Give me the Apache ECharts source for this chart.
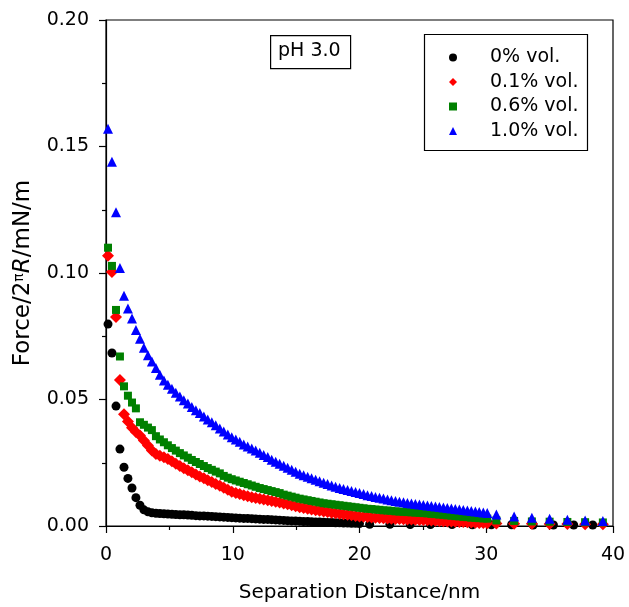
<!DOCTYPE html>
<html>
<head>
<meta charset="utf-8">
<script src="https://cdn.jsdelivr.net/npm/echarts@6/dist/echarts.min.js"></script>
<style>
  html, body { margin: 0; padding: 0; background: #fff; }
  #chart { width: 629px; height: 607px; }
</style>
</head>
<body>
<div id="chart"></div>
<script>
// separation distance (nm), dense part of the runs
const sepDense = [
  0.16, 0.47, 0.79, 1.10, 1.42, 1.73, 2.05, 2.36, 2.68, 2.99,
  3.31, 3.62, 3.94, 4.25, 4.57, 4.88, 5.20, 5.51, 5.83, 6.14,
  6.46, 6.77, 7.09, 7.40, 7.72, 8.03, 8.35, 8.66, 8.98, 9.29,
  9.61, 9.92, 10.24, 10.55, 10.87, 11.18, 11.50, 11.81, 12.13, 12.44,
  12.76, 13.07, 13.39, 13.70, 14.02, 14.33, 14.65, 14.96, 15.28, 15.59,
  15.91, 16.22, 16.54, 16.85, 17.17, 17.48, 17.80, 18.11, 18.43, 18.74,
  19.06, 19.37, 19.69, 20.00, 20.32, 20.63, 20.95, 21.26, 21.58, 21.89,
  22.21, 22.52, 22.84, 23.15, 23.47, 23.78, 24.10, 24.41, 24.73, 25.04,
  25.36, 25.67, 25.99, 26.30, 26.62, 26.93, 27.25, 27.56, 27.88, 28.19,
  28.51, 28.82, 29.14, 29.45, 29.77, 30.08
];
// sparse tail points
const sepTail0 = [20.8, 22.4, 24.0, 25.6, 27.3, 28.9, 30.4, 32.0, 33.7, 35.3, 36.9, 38.4];
const sepTail = [30.8, 32.2, 33.6, 35.0, 36.4, 37.8, 39.2];

// Force/2piR (mN/m)
const force0 = [
  0.0798, 0.0684, 0.0474, 0.0304, 0.0232, 0.0188, 0.0150, 0.0112, 0.0082, 0.0064,
  0.0056, 0.0052, 0.0050, 0.0049, 0.0048, 0.0047, 0.0046, 0.0045, 0.0044, 0.0044,
  0.0043, 0.0042, 0.0041, 0.0040, 0.0040, 0.0039, 0.0038, 0.0037, 0.0036, 0.0035,
  0.0034, 0.0033, 0.0032, 0.0031, 0.0030, 0.0030, 0.0029, 0.0028, 0.0027, 0.0026,
  0.0026, 0.0025, 0.0024, 0.0023, 0.0022, 0.0021, 0.0020, 0.0020, 0.0019, 0.0018,
  0.0018, 0.0017, 0.0016, 0.0016, 0.0015, 0.0014, 0.0014, 0.0013, 0.0013, 0.0012,
  0.0012, 0.0011, 0.0011, 0.0010
];
const force0Tail = [0.0007, 0.0007, 0.0006, 0.0006, 0.0006, 0.0005, 0.0005, 0.0005, 0.0004, 0.0004, 0.0004, 0.0004];

const force01 = [
  0.1068, 0.1004, 0.0826, 0.0577, 0.0442, 0.0413, 0.0388, 0.0372, 0.0358, 0.0338,
  0.0318, 0.0298, 0.0285, 0.0278, 0.0272, 0.0265, 0.0256, 0.0246, 0.0237, 0.0228,
  0.0220, 0.0212, 0.0204, 0.0196, 0.0189, 0.0181, 0.0174, 0.0166, 0.0159, 0.0151,
  0.0143, 0.0135, 0.0130, 0.0126, 0.0122, 0.0118, 0.0114, 0.0111, 0.0108, 0.0105,
  0.0102, 0.0099, 0.0096, 0.0093, 0.0089, 0.0086, 0.0082, 0.0078, 0.0074, 0.0071,
  0.0068, 0.0065, 0.0062, 0.0060, 0.0057, 0.0055, 0.0052, 0.0050, 0.0048, 0.0046,
  0.0044, 0.0042, 0.0040, 0.0038, 0.0037, 0.0036, 0.0034, 0.0033, 0.0032, 0.0031,
  0.0030, 0.0029, 0.0028, 0.0028, 0.0027, 0.0026, 0.0026, 0.0025, 0.0024, 0.0024,
  0.0023, 0.0022, 0.0021, 0.0020, 0.0019, 0.0018, 0.0018, 0.0017, 0.0016, 0.0016,
  0.0015, 0.0014, 0.0013, 0.0012, 0.0012, 0.0011
];
const force01Tail = [0.0010, 0.0009, 0.0009, 0.0008, 0.0008, 0.0007, 0.0007];

const force06 = [
  0.1100, 0.1028, 0.0854, 0.0670, 0.0552, 0.0515, 0.0488, 0.0465, 0.0410, 0.0400,
  0.0389, 0.0379, 0.0355, 0.0342, 0.0331, 0.0319, 0.0308, 0.0298, 0.0288, 0.0279,
  0.0270, 0.0261, 0.0253, 0.0245, 0.0237, 0.0229, 0.0222, 0.0215, 0.0208, 0.0198,
  0.0191, 0.0185, 0.0180, 0.0175, 0.0170, 0.0165, 0.0160, 0.0155, 0.0150, 0.0146,
  0.0142, 0.0138, 0.0134, 0.0130, 0.0124, 0.0120, 0.0116, 0.0112, 0.0108, 0.0105,
  0.0102, 0.0099, 0.0096, 0.0093, 0.0090, 0.0088, 0.0086, 0.0084, 0.0082, 0.0080,
  0.0078, 0.0076, 0.0074, 0.0072, 0.0070, 0.0068, 0.0067, 0.0065, 0.0064, 0.0062,
  0.0061, 0.0060, 0.0058, 0.0057, 0.0056, 0.0055, 0.0054, 0.0053, 0.0052, 0.0051,
  0.0050, 0.0048, 0.0047, 0.0045, 0.0044, 0.0042, 0.0041, 0.0039, 0.0038, 0.0036,
  0.0035, 0.0033, 0.0032, 0.0031, 0.0030, 0.0029
];
const force06Tail = [0.0022, 0.0020, 0.0018, 0.0017, 0.0016, 0.0015, 0.0014];

const force10 = [
  0.1570, 0.1440, 0.1240, 0.1020, 0.0910, 0.0860, 0.0820, 0.0775, 0.0740, 0.0705,
  0.0675, 0.0650, 0.0625, 0.0598, 0.0575, 0.0558, 0.0542, 0.0527, 0.0512, 0.0497,
  0.0484, 0.0470, 0.0458, 0.0447, 0.0433, 0.0421, 0.0410, 0.0398, 0.0385, 0.0374,
  0.0362, 0.0351, 0.0342, 0.0333, 0.0322, 0.0314, 0.0306, 0.0298, 0.0290, 0.0281,
  0.0273, 0.0262, 0.0254, 0.0246, 0.0238, 0.0230, 0.0222, 0.0214, 0.0207, 0.0201,
  0.0195, 0.0189, 0.0183, 0.0177, 0.0171, 0.0166, 0.0160, 0.0155, 0.0150, 0.0146,
  0.0142, 0.0138, 0.0134, 0.0130, 0.0126, 0.0122, 0.0119, 0.0115, 0.0112, 0.0109,
  0.0105, 0.0102, 0.0099, 0.0096, 0.0094, 0.0091, 0.0089, 0.0087, 0.0085, 0.0083,
  0.0081, 0.0079, 0.0077, 0.0075, 0.0073, 0.0071, 0.0069, 0.0067, 0.0065, 0.0063,
  0.0061, 0.0059, 0.0057, 0.0055, 0.0053, 0.0051
];
const force10Tail = [0.0045, 0.0038, 0.0033, 0.0029, 0.0025, 0.0022, 0.0020];

const seriesNames = ['0% vol.', '0.1% vol.', '0.6% vol.', '1.0% vol.'];
const yTicks = [0, 0.05, 0.10, 0.15, 0.20];
const xTicks = [0, 10, 20, 30, 40];

function pairs(xs, ys) {
  return ys.map((y, i) => [xs[i], y]);
}

const FONT = 'DejaVu Sans';

const chart = echarts.init(document.getElementById('chart'));
chart.setOption({
  animation: false,
  backgroundColor: '#fff',
  grid: {
    left: 106, right: 16, top: 20, bottom: 81,
    outerBoundsMode: 'none',
    show: true, borderColor: '#000', borderWidth: 1.2
  },
  legend: {
    orient: 'vertical',
    left: 449, top: 48,
    padding: 0,
    itemWidth: 8, itemHeight: 8,
    itemGap: 5.5,
    textStyle: { fontFamily: FONT, fontSize: 19, lineHeight: 19, color: '#000', padding: [0, 0, 0, 28] },
    data: seriesNames
  },
  xAxis: {
    type: 'value',
    min: xTicks[0], max: xTicks[xTicks.length - 1], interval: 10,
    name: 'Separation Distance/nm',
    nameLocation: 'middle',
    nameGap: 57,
    nameTextStyle: { fontFamily: FONT, fontSize: 20, color: '#000' },
    axisLine: { lineStyle: { color: '#000', width: 1.2 } },
    axisTick: { length: 7, lineStyle: { color: '#000', width: 1.2 } },
    minorTick: { show: true, splitNumber: 2, length: 4, lineStyle: { color: '#000', width: 1.2 } },
    splitLine: { show: false },
    axisLabel: { fontFamily: FONT, fontSize: 19, color: '#000', margin: 20 }
  },
  yAxis: {
    type: 'value',
    min: yTicks[0], max: yTicks[yTicks.length - 1], interval: 0.05,
    name: 'Force/2{sup|π}{it|R}/mN/m',
    nameLocation: 'middle',
    nameGap: 71,
    nameTextStyle: {
      fontFamily: FONT, fontSize: 23, color: '#000',
      rich: {
        sup: { fontFamily: FONT, fontSize: 14, color: '#000', verticalAlign: 'top', padding: [0, 0, 8, 0] },
        it: { fontFamily: FONT, fontSize: 23, fontStyle: 'italic', color: '#000' }
      }
    },
    axisLine: { lineStyle: { color: '#000', width: 1.2 } },
    axisTick: { length: 7, lineStyle: { color: '#000', width: 1.2 } },
    minorTick: { show: true, splitNumber: 2, length: 4, lineStyle: { color: '#000', width: 1.2 } },
    splitLine: { show: false },
    axisLabel: {
      fontFamily: FONT, fontSize: 19, color: '#000', margin: 17,
      formatter: v => v.toFixed(2)
    }
  },
  graphic: [
    {
      type: 'rect', left: 270, top: 35, z: 10,
      shape: { width: 80, height: 33 },
      style: { fill: '#fff', stroke: '#000', lineWidth: 1.2 }
    },
    {
      type: 'text', left: 278, top: 42, z: 11,
      style: { text: 'pH 3.0', font: '19px "DejaVu Sans"', fill: '#000' }
    },
    {
      type: 'rect', left: 422, top: 32, z: 1,
      shape: { width: 163, height: 116 },
      style: { fill: 'none', stroke: '#000', lineWidth: 1.2 }
    }
  ],
  series: [
    {
      name: seriesNames[0], type: 'scatter', symbol: 'circle', symbolSize: 9,
      itemStyle: { color: '#000000', opacity: 1 },
      data: pairs(sepDense, force0).concat(pairs(sepTail0, force0Tail))
    },
    {
      name: seriesNames[1], type: 'scatter', symbol: 'diamond', symbolSize: 12,
      itemStyle: { color: '#ff0000', opacity: 1 },
      data: pairs(sepDense, force01).concat(pairs(sepTail, force01Tail))
    },
    {
      name: seriesNames[2], type: 'scatter', symbol: 'rect', symbolSize: 8,
      itemStyle: { color: '#008000', opacity: 1 },
      data: pairs(sepDense, force06).concat(pairs(sepTail, force06Tail))
    },
    {
      name: seriesNames[3], type: 'scatter', symbol: 'triangle', symbolSize: 10,
      itemStyle: { color: '#0000ff', opacity: 1 },
      data: pairs(sepDense, force10).concat(pairs(sepTail, force10Tail))
    }
  ]
});
</script>
</body>
</html>
